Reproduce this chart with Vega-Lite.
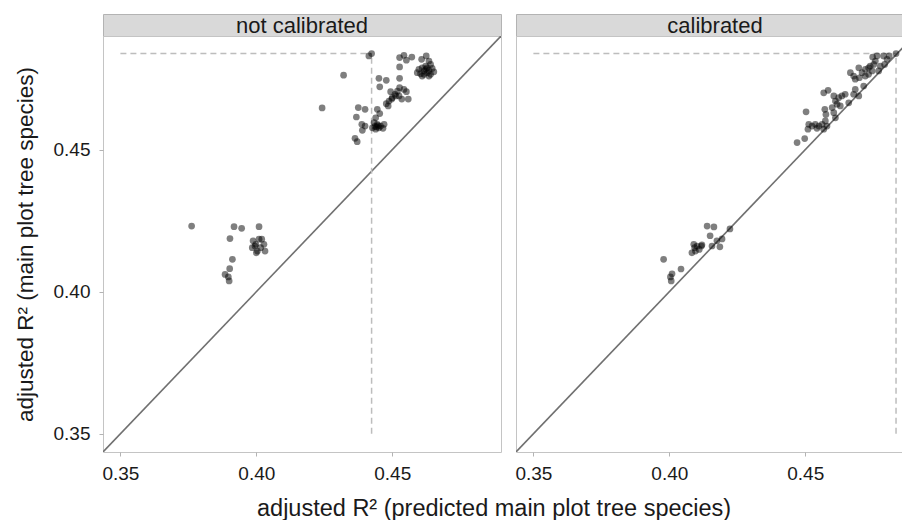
{
  "$schema": "https://vega.github.io/schema/vega-lite/v6.json",
  "padding": {"left": 13, "top": 13, "right": 0, "bottom": 0},
  "autosize": {"type": "pad"},
  "spacing": 12,
  "datasets": {
    "pts": [
      {"panel": "not calibrated", "x": 0.3762, "y": 0.4231}, {"panel": "not calibrated", "x": 0.3918, "y": 0.4229}, {"panel": "not calibrated", "x": 0.3946, "y": 0.4223}, {"panel": "not calibrated", "x": 0.401, "y": 0.4229}, {"panel": "not calibrated", "x": 0.3903, "y": 0.4187},
      {"panel": "not calibrated", "x": 0.3988, "y": 0.4179}, {"panel": "not calibrated", "x": 0.3998, "y": 0.4167}, {"panel": "not calibrated", "x": 0.401, "y": 0.4185}, {"panel": "not calibrated", "x": 0.402, "y": 0.4185}, {"panel": "not calibrated", "x": 0.4028, "y": 0.4167}, {"panel": "not calibrated", "x": 0.4032, "y": 0.4143}, {"panel": "not calibrated", "x": 0.4004, "y": 0.4143}, {"panel": "not calibrated", "x": 0.3985, "y": 0.4155}, {"panel": "not calibrated", "x": 0.3995, "y": 0.4161}, {"panel": "not calibrated", "x": 0.4016, "y": 0.4155}, {"panel": "not calibrated", "x": 0.4, "y": 0.4137},
      {"panel": "not calibrated", "x": 0.3912, "y": 0.4114}, {"panel": "not calibrated", "x": 0.3902, "y": 0.4081}, {"panel": "not calibrated", "x": 0.3885, "y": 0.4061}, {"panel": "not calibrated", "x": 0.3897, "y": 0.4052}, {"panel": "not calibrated", "x": 0.39, "y": 0.4038},
      {"panel": "not calibrated", "x": 0.4424, "y": 0.4838}, {"panel": "not calibrated", "x": 0.4414, "y": 0.483}, {"panel": "not calibrated", "x": 0.4321, "y": 0.4762}, {"panel": "not calibrated", "x": 0.4242, "y": 0.4647},
      {"panel": "not calibrated", "x": 0.4527, "y": 0.4824}, {"panel": "not calibrated", "x": 0.4543, "y": 0.4832}, {"panel": "not calibrated", "x": 0.4552, "y": 0.4815}, {"panel": "not calibrated", "x": 0.4572, "y": 0.4826}, {"panel": "not calibrated", "x": 0.4527, "y": 0.4791},
      {"panel": "not calibrated", "x": 0.4625, "y": 0.483}, {"panel": "not calibrated", "x": 0.4608, "y": 0.4818}, {"panel": "not calibrated", "x": 0.4635, "y": 0.4812}, {"panel": "not calibrated", "x": 0.4641, "y": 0.48},
      {"panel": "not calibrated", "x": 0.4598, "y": 0.4783}, {"panel": "not calibrated", "x": 0.461, "y": 0.4788}, {"panel": "not calibrated", "x": 0.4623, "y": 0.4783}, {"panel": "not calibrated", "x": 0.4629, "y": 0.4771}, {"panel": "not calibrated", "x": 0.4617, "y": 0.4765}, {"panel": "not calibrated", "x": 0.4604, "y": 0.4767}, {"panel": "not calibrated", "x": 0.4635, "y": 0.4779}, {"panel": "not calibrated", "x": 0.4647, "y": 0.4786}, {"panel": "not calibrated", "x": 0.4653, "y": 0.4774}, {"panel": "not calibrated", "x": 0.4641, "y": 0.4765}, {"panel": "not calibrated", "x": 0.461, "y": 0.4759}, {"panel": "not calibrated", "x": 0.4623, "y": 0.4794}, {"panel": "not calibrated", "x": 0.4592, "y": 0.4771}, {"panel": "not calibrated", "x": 0.4635, "y": 0.4759}, {"panel": "not calibrated", "x": 0.4617, "y": 0.4777}, {"panel": "not calibrated", "x": 0.4629, "y": 0.4788},
      {"panel": "not calibrated", "x": 0.4451, "y": 0.4751}, {"panel": "not calibrated", "x": 0.4478, "y": 0.4744}, {"panel": "not calibrated", "x": 0.4527, "y": 0.4751}, {"panel": "not calibrated", "x": 0.4454, "y": 0.4721}, {"panel": "not calibrated", "x": 0.4527, "y": 0.4718}, {"panel": "not calibrated", "x": 0.4494, "y": 0.4704}, {"panel": "not calibrated", "x": 0.4519, "y": 0.4706}, {"panel": "not calibrated", "x": 0.4543, "y": 0.4712}, {"panel": "not calibrated", "x": 0.4552, "y": 0.4704}, {"panel": "not calibrated", "x": 0.451, "y": 0.4695}, {"panel": "not calibrated", "x": 0.4525, "y": 0.4689}, {"panel": "not calibrated", "x": 0.4535, "y": 0.4678}, {"panel": "not calibrated", "x": 0.4559, "y": 0.4678}, {"panel": "not calibrated", "x": 0.4488, "y": 0.4671}, {"panel": "not calibrated", "x": 0.4498, "y": 0.4678}, {"panel": "not calibrated", "x": 0.4478, "y": 0.4662}, {"panel": "not calibrated", "x": 0.4485, "y": 0.4654}, {"panel": "not calibrated", "x": 0.4513, "y": 0.4689}, {"panel": "not calibrated", "x": 0.45, "y": 0.4683},
      {"panel": "not calibrated", "x": 0.4375, "y": 0.4648}, {"panel": "not calibrated", "x": 0.44, "y": 0.4642}, {"panel": "not calibrated", "x": 0.4368, "y": 0.4615}, {"panel": "not calibrated", "x": 0.4445, "y": 0.4642}, {"panel": "not calibrated", "x": 0.4454, "y": 0.4627}, {"panel": "not calibrated", "x": 0.4439, "y": 0.4612}, {"panel": "not calibrated", "x": 0.4388, "y": 0.4589}, {"panel": "not calibrated", "x": 0.44, "y": 0.4583}, {"panel": "not calibrated", "x": 0.439, "y": 0.4568}, {"panel": "not calibrated", "x": 0.4433, "y": 0.4595}, {"panel": "not calibrated", "x": 0.4445, "y": 0.4589}, {"panel": "not calibrated", "x": 0.4457, "y": 0.4583}, {"panel": "not calibrated", "x": 0.447, "y": 0.4589}, {"panel": "not calibrated", "x": 0.4451, "y": 0.4577}, {"panel": "not calibrated", "x": 0.4466, "y": 0.4575}, {"panel": "not calibrated", "x": 0.4427, "y": 0.4577}, {"panel": "not calibrated", "x": 0.4439, "y": 0.4572}, {"panel": "not calibrated", "x": 0.4363, "y": 0.454}, {"panel": "not calibrated", "x": 0.4371, "y": 0.4528}, {"panel": "not calibrated", "x": 0.4442, "y": 0.458}, {"panel": "not calibrated", "x": 0.4448, "y": 0.4585}, {"panel": "not calibrated", "x": 0.4436, "y": 0.4582},
      {"panel": "calibrated", "x": 0.3979, "y": 0.4114}, {"panel": "calibrated", "x": 0.4043, "y": 0.408}, {"panel": "calibrated", "x": 0.401, "y": 0.4063}, {"panel": "calibrated", "x": 0.4004, "y": 0.4052}, {"panel": "calibrated", "x": 0.4007, "y": 0.4038}, {"panel": "calibrated", "x": 0.4083, "y": 0.4137}, {"panel": "calibrated", "x": 0.4093, "y": 0.4155}, {"panel": "calibrated", "x": 0.4102, "y": 0.4161}, {"panel": "calibrated", "x": 0.411, "y": 0.4149}, {"panel": "calibrated", "x": 0.4096, "y": 0.4143}, {"panel": "calibrated", "x": 0.409, "y": 0.4167}, {"panel": "calibrated", "x": 0.4118, "y": 0.4161},
      {"panel": "calibrated", "x": 0.4139, "y": 0.4231}, {"panel": "calibrated", "x": 0.4164, "y": 0.4228}, {"panel": "calibrated", "x": 0.415, "y": 0.4197}, {"panel": "calibrated", "x": 0.4175, "y": 0.4179}, {"panel": "calibrated", "x": 0.4194, "y": 0.4186}, {"panel": "calibrated", "x": 0.4223, "y": 0.4221}, {"panel": "calibrated", "x": 0.412, "y": 0.4165}, {"panel": "calibrated", "x": 0.4157, "y": 0.4161}, {"panel": "calibrated", "x": 0.4186, "y": 0.4158},
      {"panel": "calibrated", "x": 0.447, "y": 0.4525}, {"panel": "calibrated", "x": 0.4498, "y": 0.4539},
      {"panel": "calibrated", "x": 0.4503, "y": 0.4633}, {"panel": "calibrated", "x": 0.4513, "y": 0.4589}, {"panel": "calibrated", "x": 0.4525, "y": 0.4583}, {"panel": "calibrated", "x": 0.4537, "y": 0.4589}, {"panel": "calibrated", "x": 0.455, "y": 0.4583}, {"panel": "calibrated", "x": 0.4562, "y": 0.4589}, {"panel": "calibrated", "x": 0.458, "y": 0.4583}, {"panel": "calibrated", "x": 0.4543, "y": 0.4575}, {"panel": "calibrated", "x": 0.4568, "y": 0.4572}, {"panel": "calibrated", "x": 0.4574, "y": 0.4601}, {"panel": "calibrated", "x": 0.451, "y": 0.4572},
      {"panel": "calibrated", "x": 0.4572, "y": 0.4642}, {"panel": "calibrated", "x": 0.4576, "y": 0.4624}, {"panel": "calibrated", "x": 0.4584, "y": 0.4709}, {"panel": "calibrated", "x": 0.4568, "y": 0.47}, {"panel": "calibrated", "x": 0.4605, "y": 0.4689}, {"panel": "calibrated", "x": 0.4611, "y": 0.4671}, {"panel": "calibrated", "x": 0.4623, "y": 0.4683}, {"panel": "calibrated", "x": 0.4635, "y": 0.4689}, {"panel": "calibrated", "x": 0.4647, "y": 0.4695}, {"panel": "calibrated", "x": 0.4617, "y": 0.466}, {"panel": "calibrated", "x": 0.4599, "y": 0.4648}, {"panel": "calibrated", "x": 0.4605, "y": 0.463}, {"panel": "calibrated", "x": 0.4611, "y": 0.4612}, {"panel": "calibrated", "x": 0.4629, "y": 0.4654}, {"panel": "calibrated", "x": 0.4684, "y": 0.4712}, {"panel": "calibrated", "x": 0.4678, "y": 0.4695}, {"panel": "calibrated", "x": 0.4697, "y": 0.4689}, {"panel": "calibrated", "x": 0.466, "y": 0.4665}, {"panel": "calibrated", "x": 0.4715, "y": 0.4724},
      {"panel": "calibrated", "x": 0.4666, "y": 0.4771}, {"panel": "calibrated", "x": 0.4678, "y": 0.4759}, {"panel": "calibrated", "x": 0.4697, "y": 0.4788}, {"panel": "calibrated", "x": 0.4699, "y": 0.4753}, {"panel": "calibrated", "x": 0.4709, "y": 0.4771}, {"panel": "calibrated", "x": 0.4721, "y": 0.4783}, {"panel": "calibrated", "x": 0.4733, "y": 0.4788}, {"panel": "calibrated", "x": 0.4739, "y": 0.4794}, {"panel": "calibrated", "x": 0.4746, "y": 0.4777}, {"panel": "calibrated", "x": 0.4752, "y": 0.48}, {"panel": "calibrated", "x": 0.4758, "y": 0.4812}, {"panel": "calibrated", "x": 0.4748, "y": 0.4826}, {"panel": "calibrated", "x": 0.4764, "y": 0.483}, {"panel": "calibrated", "x": 0.4776, "y": 0.4794}, {"panel": "calibrated", "x": 0.4788, "y": 0.483}, {"panel": "calibrated", "x": 0.4792, "y": 0.48}, {"panel": "calibrated", "x": 0.477, "y": 0.4777}, {"panel": "calibrated", "x": 0.4801, "y": 0.4818}, {"panel": "calibrated", "x": 0.4809, "y": 0.483}, {"panel": "calibrated", "x": 0.4834, "y": 0.4838}, {"panel": "calibrated", "x": 0.4733, "y": 0.4765}, {"panel": "calibrated", "x": 0.4721, "y": 0.4759}, {"panel": "calibrated", "x": 0.4684, "y": 0.4748}
    ],
    "ref": [
      {"panel": "not calibrated", "x": 0.35, "x2": 0.4424, "y": 0.4838, "y2": 0.4838},
      {"panel": "not calibrated", "x": 0.4424, "x2": 0.4424, "y": 0.35, "y2": 0.4838},
      {"panel": "calibrated", "x": 0.35, "x2": 0.4834, "y": 0.4838, "y2": 0.4838},
      {"panel": "calibrated", "x": 0.4834, "x2": 0.4834, "y": 0.35, "y2": 0.4838}
    ],
    "diag": [
      {"x": 0.3436, "x2": 0.49, "y": 0.3436, "y2": 0.49}
    ]
  },
  "hconcat": [
    {
      "vconcat": [
        {
          "width": 398, "height": 22,
          "data": {"values": [{"label": "not calibrated"}]},
          "mark": {"type": "text", "fontSize": 22, "color": "#1a1a1a", "baseline": "middle", "align": "center", "dy": 1},
          "encoding": {"text": {"field": "label"}},
          "view": {"fill": "#d9d9d9", "stroke": "#b3b3b3"}
        },
        {
          "width": 398, "height": 416,
          "view": {"stroke": "#c4c4c4"},
          "layer": [
            {
              "data": {"name": "diag"},
              "mark": {"type": "rule", "color": "#707070", "strokeWidth": 1.6, "clip": true},
              "encoding": {
                "x": {"field": "x", "type": "quantitative", "scale": {"domain": [0.3436, 0.49], "nice": false, "zero": false}, "axis": {"values": [0.35, 0.4, 0.45], "format": ".2f", "title": null}},
                "x2": {"field": "x2"},
                "y": {"field": "y", "type": "quantitative", "scale": {"domain": [0.3436, 0.49], "nice": false, "zero": false}, "axis": {"values": [0.35, 0.4, 0.45], "format": ".2f", "title": "adjusted R² (main plot tree species)"}},
                "y2": {"field": "y2"}
              }
            },
            {
              "data": {"name": "ref"},
              "transform": [{"filter": "datum.panel === 'not calibrated'"}],
              "mark": {"type": "rule", "color": "#bdbdbd", "strokeWidth": 1.5, "strokeDash": [6, 4]},
              "encoding": {
                "x": {"field": "x", "type": "quantitative"},
                "x2": {"field": "x2"},
                "y": {"field": "y", "type": "quantitative"},
                "y2": {"field": "y2"}
              }
            },
            {
              "data": {"name": "pts"},
              "transform": [{"filter": "datum.panel === 'not calibrated'"}],
              "mark": {"type": "circle", "size": 45, "color": "#000000", "opacity": 0.5},
              "encoding": {
                "x": {"field": "x", "type": "quantitative"},
                "y": {"field": "y", "type": "quantitative"}
              }
            }
          ]
        }
      ],
      "spacing": 0,
      "bounds": "flush"
    },
    {
      "vconcat": [
        {
          "width": 392, "height": 22,
          "data": {"values": [{"label": "calibrated"}]},
          "mark": {"type": "text", "fontSize": 22, "color": "#1a1a1a", "baseline": "middle", "align": "center", "dx": 3, "dy": 1},
          "encoding": {"text": {"field": "label"}},
          "view": {"fill": "#d9d9d9", "stroke": "#b3b3b3"}
        },
        {
          "width": 392, "height": 416,
          "view": {"stroke": "#c4c4c4"},
          "layer": [
            {
              "data": {"name": "diag"},
              "mark": {"type": "rule", "color": "#707070", "strokeWidth": 1.6, "clip": true},
              "encoding": {
                "x": {"field": "x", "type": "quantitative", "scale": {"domain": [0.3436, 0.4878], "nice": false, "zero": false}, "axis": {"values": [0.35, 0.4, 0.45], "format": ".2f", "title": null}},
                "x2": {"field": "x2"},
                "y": {"field": "y", "type": "quantitative", "scale": {"domain": [0.3436, 0.49], "nice": false, "zero": false}, "axis": null},
                "y2": {"field": "y2"}
              }
            },
            {
              "data": {"name": "ref"},
              "transform": [{"filter": "datum.panel === 'calibrated'"}],
              "mark": {"type": "rule", "color": "#bdbdbd", "strokeWidth": 1.5, "strokeDash": [6, 4], "clip": true},
              "encoding": {
                "x": {"field": "x", "type": "quantitative"},
                "x2": {"field": "x2"},
                "y": {"field": "y", "type": "quantitative"},
                "y2": {"field": "y2"}
              }
            },
            {
              "data": {"name": "pts"},
              "transform": [{"filter": "datum.panel === 'calibrated'"}],
              "mark": {"type": "circle", "size": 45, "color": "#000000", "opacity": 0.5, "clip": true},
              "encoding": {
                "x": {"field": "x", "type": "quantitative"},
                "y": {"field": "y", "type": "quantitative"}
              }
            }
          ]
        }
      ],
      "spacing": 0,
      "bounds": "flush"
    }
  ],
  "title": {
    "text": "adjusted R² (predicted main plot tree species)",
    "orient": "bottom",
    "anchor": "start",
    "frame": "group",
    "dx": 154,
    "fontSize": 23.5,
    "fontWeight": "normal",
    "color": "#1a1a1a",
    "offset": 13
  },
  "config": {
    "font": "Liberation Sans",
    "background": "#ffffff",
    "axis": {
      "labelFontSize": 19,
      "labelColor": "#1a1a1a",
      "titleFontSize": 22.5,
      "titleFontWeight": "normal",
      "titleColor": "#1a1a1a",
      "tickColor": "#b3b3b3",
      "tickSize": 4,
      "domain": false,
      "grid": false,
      "labelPadding": 7
    },
    "axisY": {"titlePadding": 16, "labelPadding": 9},
    "axisX": {"labelPadding": 8}
  }
}
